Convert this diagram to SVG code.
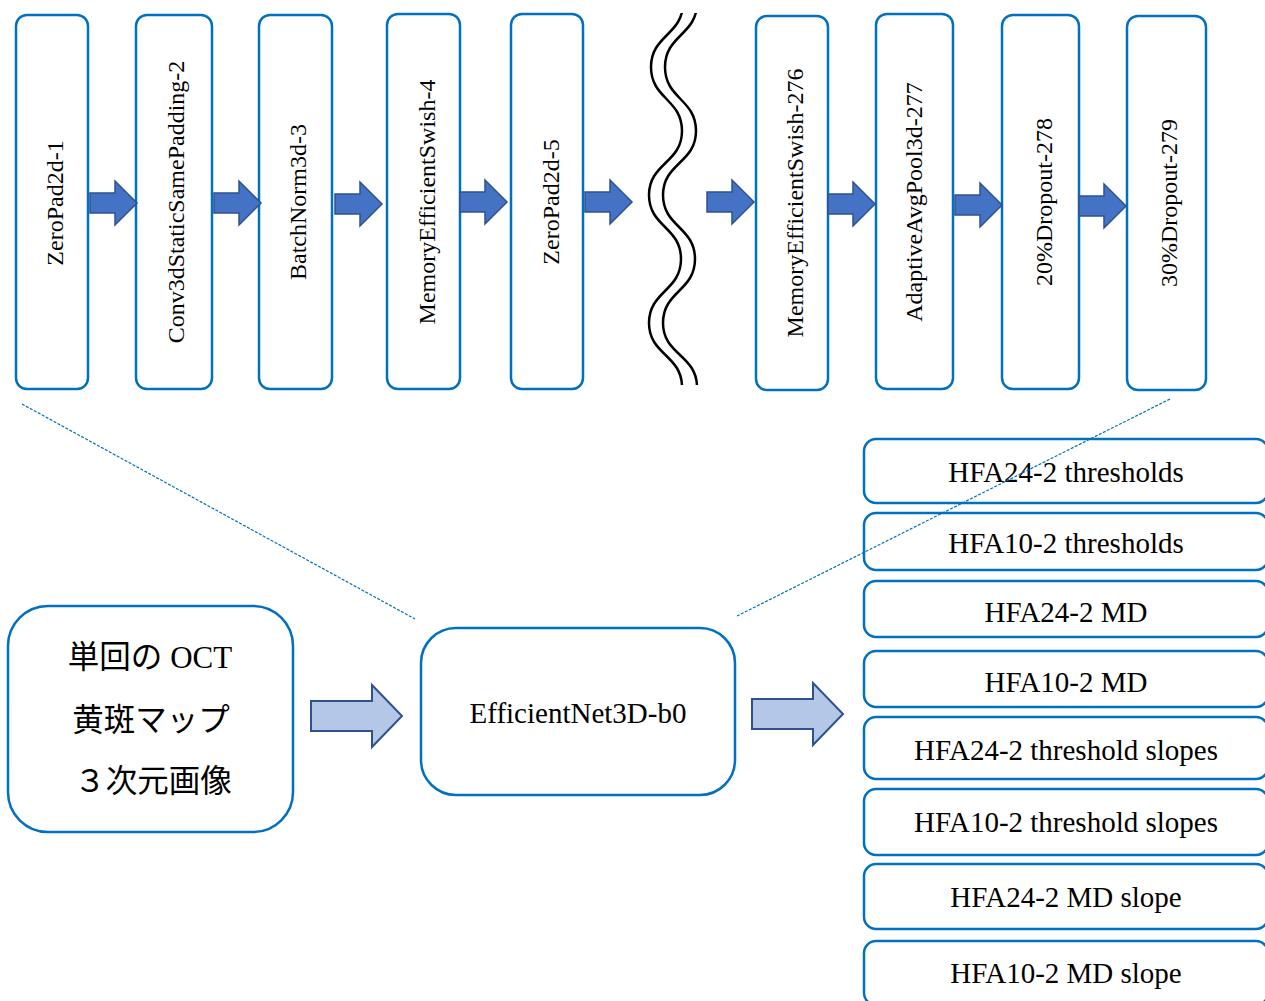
<svg xmlns="http://www.w3.org/2000/svg" xmlns:xlink="http://www.w3.org/1999/xlink" width="1265" height="1001" viewBox="0 0 1265 1001">
<style>
.box{fill:#fff;stroke:#0070C0;stroke-width:2.5}
.vt{font-family:"Liberation Serif","Times New Roman",serif;font-size:24px;fill:#000;text-anchor:middle}
.ht{font-family:"Liberation Serif","Times New Roman",serif;font-size:29px;fill:#000;text-anchor:middle}
.jp{font-family:"Noto Sans CJK JP","Noto Sans",sans-serif;font-size:31.5px;fill:#000;text-anchor:middle}
.serif{font-family:"Liberation Serif","Times New Roman",serif;font-size:31px}
.darr{fill:#4472C4;stroke:#2F528F;stroke-width:1.5}
.larr{fill:#B4C7E7;stroke:#2F528F;stroke-width:2}
.dash{fill:none;stroke:#0070C0;stroke-width:1.2;stroke-dasharray:3 1.5}
.wave{fill:none;stroke:#000;stroke-width:2.5}
</style>
<defs>
<path id="sa" d="M0,-10 H25 V-22 L47,0 L25,22 V10 H0 Z"/>
<path id="la" d="M0,-15 H61 V-31 L91,0 L61,31 V15 H0 Z"/>
<clipPath id="wclip"><rect x="600" y="13" width="150" height="372"/></clipPath>
</defs>
<rect width="1265" height="1001" fill="#fff"/>

<g id="n1"><rect class="box" x="16" y="15" width="72" height="374" rx="11"/><text class="vt" transform="translate(63,203) rotate(-90)">ZeroPad2d-1</text></g>
<g id="n2"><rect class="box" x="136" y="15" width="76" height="374" rx="11"/><text class="vt" transform="translate(184,202) rotate(-90)">Conv3dStaticSamePadding-2</text></g>
<g id="n3"><rect class="box" x="259" y="15" width="73" height="374" rx="11"/><text class="vt" transform="translate(306,202) rotate(-90)">BatchNorm3d-3</text></g>
<g id="n4"><rect class="box" x="387" y="14" width="73" height="375" rx="11"/><text class="vt" transform="translate(435,202) rotate(-90)">MemoryEfficientSwish-4</text></g>
<g id="n5"><rect class="box" x="511" y="14" width="72" height="375" rx="11"/><text class="vt" transform="translate(559,202) rotate(-90)">ZeroPad2d-5</text></g>

<g id="break" clip-path="url(#wclip)">
<path class="wave" d="M683,3 C683,35 651,35 651,67 C651,99 682,99 682,131 C682,163 649,163 649,195 C649,227 681,227 681,259 C681,291 649,291 649,323 C649,355 682,355 682,387"/>
<path class="wave" stroke-width="3" d="M697,3 C697,35 665,35 665,67 C665,99 696,99 696,131 C696,163 663,163 663,195 C663,227 695,227 695,259 C695,291 663,291 663,323 C663,355 697,355 697,387"/>
</g>

<g id="n6"><rect class="box" x="756" y="16" width="72" height="374" rx="11"/><text class="vt" transform="translate(803,203) rotate(-90)">MemoryEfficientSwish-276</text></g>
<g id="n7"><rect class="box" x="876" y="14" width="77" height="375" rx="11"/><text class="vt" transform="translate(922,202) rotate(-90)">AdaptiveAvgPool3d-277</text></g>
<g id="n8"><rect class="box" x="1002" y="15" width="77" height="374" rx="11"/><text class="vt" transform="translate(1052,202) rotate(-90)">20%Dropout-278</text></g>
<g id="n9"><rect class="box" x="1127" y="16" width="79" height="374" rx="11"/><text class="vt" transform="translate(1177,203) rotate(-90)">30%Dropout-279</text></g>

<g id="input"><rect class="box" x="8" y="606" width="285" height="226" rx="40"/>
<text class="jp" x="150" y="668">単回の<tspan class="serif"> OCT</tspan></text>
<text class="jp" x="151" y="731">黄斑マップ</text>
<text class="jp" x="153" y="792">３次元画像</text>
</g>

<g id="model"><rect class="box" x="421" y="628" width="314" height="167" rx="35"/><text class="ht" x="578" y="723">EfficientNet3D-b0</text></g>

<g id="o1"><rect class="box" x="864" y="439" width="404" height="64" rx="12"/><text class="ht" x="1066" y="482">HFA24-2 thresholds</text></g>
<g id="o2"><rect class="box" x="864" y="513" width="404" height="57" rx="12"/><text class="ht" x="1066" y="553">HFA10-2 thresholds</text></g>
<g id="o3"><rect class="box" x="864" y="581" width="404" height="56" rx="12"/><text class="ht" x="1066" y="622">HFA24-2 MD</text></g>
<g id="o4"><rect class="box" x="864" y="651" width="404" height="56" rx="12"/><text class="ht" x="1066" y="692">HFA10-2 MD</text></g>
<g id="o5"><rect class="box" x="864" y="717" width="404" height="62" rx="12"/><text class="ht" x="1066" y="760">HFA24-2 threshold slopes</text></g>
<g id="o6"><rect class="box" x="864" y="789" width="404" height="66" rx="12"/><text class="ht" x="1066" y="832">HFA10-2 threshold slopes</text></g>
<g id="o7"><rect class="box" x="864" y="864" width="404" height="65" rx="12"/><text class="ht" x="1066" y="907">HFA24-2 MD slope</text></g>
<g id="o8"><rect class="box" x="864" y="941" width="404" height="64" rx="12"/><text class="ht" x="1066" y="983">HFA10-2 MD slope</text></g>

<g id="connectors">
<line class="dash" x1="22" y1="404" x2="415" y2="619"/>
<line class="dash" x1="1170" y1="399" x2="737" y2="616"/>
<use href="#sa" class="darr" transform="translate(90,203)"/>
<use href="#sa" class="darr" transform="translate(214,203)"/>
<use href="#sa" class="darr" transform="translate(335,204)"/>
<use href="#sa" class="darr" transform="translate(460,202)"/>
<use href="#sa" class="darr" transform="translate(585,202)"/>
<use href="#sa" class="darr" transform="translate(707,202)"/>
<use href="#sa" class="darr" transform="translate(828,204)"/>
<use href="#sa" class="darr" transform="translate(955,205)"/>
<use href="#sa" class="darr" transform="translate(1079,206)"/>
<use href="#la" class="larr" transform="translate(311,716)"/>
<use href="#la" class="larr" transform="translate(752,714)"/>
</g>
</svg>
